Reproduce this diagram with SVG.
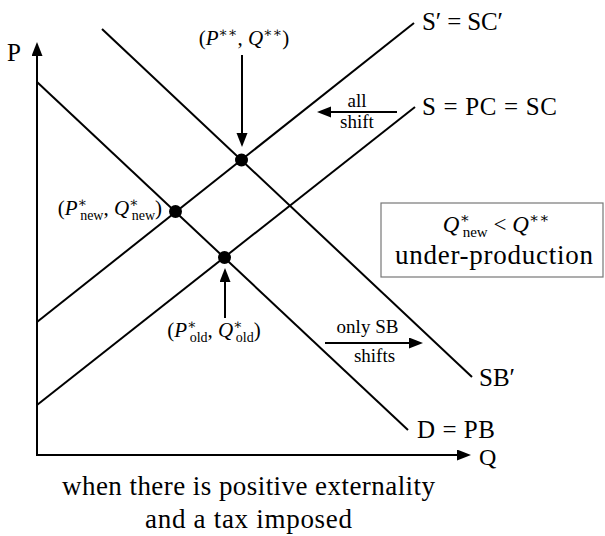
<svg xmlns="http://www.w3.org/2000/svg" width="605" height="536" viewBox="0 0 605 536" font-family="'Liberation Serif', 'DejaVu Serif', serif">
<defs>
<style>
.ln{stroke:#000;stroke-width:2;fill:none}
.ar{stroke:#000;stroke-width:2;fill:none;marker-end:url(#ah)}
text{font-family:'Liberation Serif','DejaVu Serif',serif;fill:#000}
.t{font-size:25px}
.c{font-size:27px}
.m{font-size:21px}
.i{font-style:italic}
.sm{font-size:14px}
.s{font-size:19px}
.dot{fill:#000}
</style>
<marker id="ah" markerUnits="userSpaceOnUse" markerWidth="14" markerHeight="12" refX="10" refY="5.5" orient="auto">
<path d="M0,0 L14,5.5 L0,11 Z" fill="#000"/>
</marker>
</defs>
<rect width="605" height="536" fill="#fff"/>
<g id="axes">
<line class="ar" x1="37" y1="456" x2="37" y2="46"/>
<line class="ar" x1="36" y1="455" x2="467" y2="455"/>
<text class="t" x="7" y="61">P</text>
<text class="t" x="479" y="465" style="font-size:24px">Q</text>
</g>
<g id="curves">
<g id="D"><line class="ln" x1="37" y1="82" x2="408" y2="430"/><text class="t" x="417" y="438" textLength="78">D = PB</text></g>
<g id="SBp"><line class="ln" x1="102" y1="29" x2="472" y2="377"/><text class="t" x="479" y="386">SB′</text></g>
<g id="S"><line class="ln" x1="37" y1="405" x2="415" y2="107"/><text class="t" x="422" y="115" textLength="135">S = PC = SC</text></g>
<g id="Sp"><line class="ln" x1="37" y1="322" x2="414" y2="23"/><text class="t" x="422" y="30" textLength="81">S′ = SC′</text></g>
</g>
<g id="eq-social">
<circle class="dot" cx="241.5" cy="160" r="6.5"/>
<text class="m" x="244" y="45" text-anchor="middle">(<tspan class="i">P</tspan><tspan class="sm" dy="-8">∗∗</tspan><tspan dy="8">, </tspan><tspan class="i">Q</tspan><tspan class="sm" dy="-8">∗∗</tspan><tspan dy="8">)</tspan></text>
</g>
<g id="eq-new">
<circle class="dot" cx="175.5" cy="211.5" r="6.5"/>
<text class="m" x="162" y="215" text-anchor="end">(<tspan class="i">P</tspan><tspan class="sm" dy="-8">∗</tspan><tspan class="sm" dx="-7" dy="13">new</tspan><tspan dy="-5">, </tspan><tspan class="i">Q</tspan><tspan class="sm" dy="-8">∗</tspan><tspan class="sm" dx="-7" dy="13">new</tspan><tspan dy="-5">)</tspan></text>
</g>
<g id="eq-old">
<circle class="dot" cx="224.5" cy="257.5" r="6.5"/>
<text class="m" x="214" y="337" text-anchor="middle">(<tspan class="i">P</tspan><tspan class="sm" dy="-8">∗</tspan><tspan class="sm" dx="-7" dy="13">old</tspan><tspan dy="-5">, </tspan><tspan class="i">Q</tspan><tspan class="sm" dy="-8">∗</tspan><tspan class="sm" dx="-7" dy="13">old</tspan><tspan dy="-5">)</tspan></text>
</g>
<g id="note">
<rect x="381" y="203" width="222" height="74" fill="none" stroke="#777" stroke-width="1.2"/>
<text class="m" x="496" y="232" text-anchor="middle" style="font-size:23px"><tspan class="i">Q</tspan><tspan style="font-size:15px" dy="-9">∗</tspan><tspan style="font-size:15px" dx="-7" dy="14">new</tspan><tspan dy="-5"> &lt; </tspan><tspan class="i">Q</tspan><tspan style="font-size:15px" dy="-9">∗∗</tspan></text>
<text class="c" x="395" y="264" textLength="198">under-production</text>
</g>
<g id="shift-labels">
<text class="s" x="357" y="107" text-anchor="middle">all</text>
<text class="s" x="357" y="128" text-anchor="middle">shift</text>
<text class="s" x="367.5" y="333" text-anchor="middle">only SB</text>
<text class="s" x="374.5" y="362" text-anchor="middle">shifts</text>
</g>
<g id="connectors">
<line class="ar" x1="242" y1="55" x2="242" y2="143"/>
<line class="ar" x1="225" y1="318" x2="225" y2="272"/>
<line class="ar" x1="397" y1="112" x2="321" y2="112"/>
<line class="ar" x1="325" y1="343" x2="419" y2="343"/>
</g>
<g id="caption">
<text class="c" x="62" y="495" textLength="373">when there is positive externality</text>
<text class="c" x="145" y="528" textLength="207">and a tax imposed</text>
</g>
</svg>
